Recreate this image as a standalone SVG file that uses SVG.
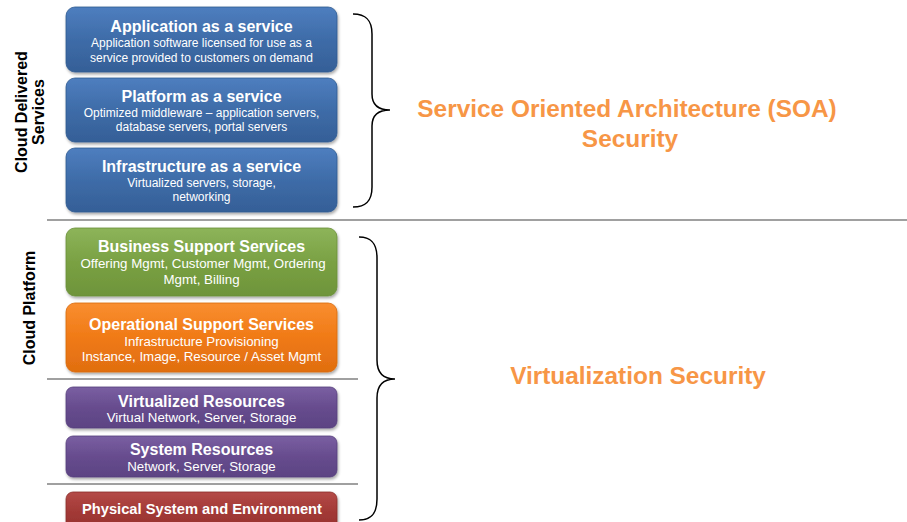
<svg xmlns="http://www.w3.org/2000/svg" width="907" height="522" viewBox="0 0 907 522">
  <defs>
    <linearGradient id="gBlue" x1="0" y1="0" x2="0" y2="1">
      <stop offset="0" stop-color="#4E7EBF"/>
      <stop offset="0.5" stop-color="#3E6CA8"/>
      <stop offset="1" stop-color="#355F97"/>
    </linearGradient>
    <linearGradient id="gGreen" x1="0" y1="0" x2="0" y2="1">
      <stop offset="0" stop-color="#8DB45A"/>
      <stop offset="0.5" stop-color="#7AA143"/>
      <stop offset="1" stop-color="#6E943A"/>
    </linearGradient>
    <linearGradient id="gOrange" x1="0" y1="0" x2="0" y2="1">
      <stop offset="0" stop-color="#F98E30"/>
      <stop offset="0.5" stop-color="#F07A16"/>
      <stop offset="1" stop-color="#E06E10"/>
    </linearGradient>
    <linearGradient id="gViolet" x1="0" y1="0" x2="0" y2="1">
      <stop offset="0" stop-color="#7A5FA2"/>
      <stop offset="0.5" stop-color="#674C8E"/>
      <stop offset="1" stop-color="#5C4383"/>
    </linearGradient>
    <linearGradient id="gRed" x1="0" y1="0" x2="0" y2="1">
      <stop offset="0" stop-color="#B44A47"/>
      <stop offset="0.5" stop-color="#A23936"/>
      <stop offset="1" stop-color="#94312E"/>
    </linearGradient>
    <filter id="shadow" x="-5%" y="-10%" width="112%" height="130%">
      <feGaussianBlur in="SourceAlpha" stdDeviation="1.5"/>
      <feOffset dx="1" dy="2" result="b"/>
      <feComponentTransfer><feFuncA type="linear" slope="0.35"/></feComponentTransfer>
      <feMerge><feMergeNode/><feMergeNode in="SourceGraphic"/></feMerge>
    </filter>
  </defs>
  <style>
    .box { filter: url(#shadow); }
    .title { font-family: "Liberation Sans", Arial, sans-serif; font-weight: bold; font-size: 16px; fill: #ffffff; text-anchor: middle; }
    .sub { font-family: "Liberation Sans", Arial, sans-serif; font-size: 12px; fill: #ffffff; text-anchor: middle; }
    .sub2 { font-family: "Liberation Sans", Arial, sans-serif; font-size: 13.3px; fill: #ffffff; text-anchor: middle; }
    .side { font-family: "Liberation Sans", Arial, sans-serif; font-weight: bold; font-size: 16px; fill: #000000; text-anchor: middle; }
    .big { font-family: "Liberation Sans", Arial, sans-serif; font-weight: bold; font-size: 24.4px; fill: #F79646; text-anchor: middle; }
    .sep { stroke: #A0A0A0; stroke-width: 2; fill: none; }
    .brace { stroke: #000000; stroke-width: 1.5; fill: none; }
  </style>

  <rect width="907" height="522" fill="#ffffff"/>

  <!-- section separators and braces -->
  <g id="connectors">
    <line class="sep" x1="47" y1="220" x2="907" y2="220"/>
    <line class="sep" x1="47" y1="379" x2="358" y2="379"/>
    <line class="sep" x1="47" y1="484" x2="358" y2="484"/>
    <path class="brace" d="M353,14 C366,14 372,20 372,34 L372,94 C372,104 378,110 390,110 C378,110 372,116 372,126 L372,187 C372,201 366,207 353,207"/>
    <path class="brace" d="M359,237 C372,237 377,244 377,258 L377,360 C377,372 383,379 395,379 C383,379 377,386 377,398 L377,499 C377,513 372,520 359,520"/>
  </g>

  <!-- side labels -->
  <g id="label-cloud-delivered">
    <text class="side" transform="translate(27,112) rotate(-90)">Cloud Delivered</text>
    <text class="side" transform="translate(44,112) rotate(-90)">Services</text>
  </g>
  <g id="label-cloud-platform">
    <text class="side" transform="translate(35,308) rotate(-90)">Cloud Platform</text>
  </g>

  <!-- cloud delivered services -->
  <g id="saas">
    <rect class="box" x="66" y="7" width="271" height="65" rx="9" fill="url(#gBlue)" stroke="#2F5A91" stroke-width="0.8"/>
    <text class="title" x="201.5" y="32">Application as a service</text>
    <text class="sub" x="201.5" y="47">Application software licensed for use as a</text>
    <text class="sub" x="201.5" y="62">service provided to customers on demand</text>
  </g>
  <g id="paas">
    <rect class="box" x="66" y="78" width="271" height="64" rx="9" fill="url(#gBlue)" stroke="#2F5A91" stroke-width="0.8"/>
    <text class="title" x="201.5" y="102">Platform as a service</text>
    <text class="sub" x="201.5" y="117">Optimized middleware – application servers,</text>
    <text class="sub" x="201.5" y="131">database servers, portal servers</text>
  </g>
  <g id="iaas">
    <rect class="box" x="66" y="148" width="271" height="64" rx="9" fill="url(#gBlue)" stroke="#2F5A91" stroke-width="0.8"/>
    <text class="title" x="201.5" y="172">Infrastructure as a service</text>
    <text class="sub" x="201.5" y="187">Virtualized servers, storage,</text>
    <text class="sub" x="201.5" y="201">networking</text>
  </g>

  <!-- cloud platform -->
  <g id="bss">
    <rect class="box" x="66" y="228" width="271" height="68" rx="9" fill="url(#gGreen)" stroke="#6A8F38" stroke-width="0.8"/>
    <text class="title" x="201.5" y="252">Business Support Services</text>
    <text class="sub2" x="203" y="268">Offering Mgmt,  Customer Mgmt, Ordering</text>
    <text class="sub2" x="201.5" y="284">Mgmt, Billing</text>
  </g>
  <g id="oss">
    <rect class="box" x="66" y="303" width="271" height="69" rx="9" fill="url(#gOrange)" stroke="#D86A0E" stroke-width="0.8"/>
    <text class="title" x="201.5" y="330">Operational Support Services</text>
    <text class="sub2" x="201.5" y="346">Infrastructure Provisioning</text>
    <text class="sub2" x="201.5" y="361">Instance, Image, Resource / Asset Mgmt</text>
  </g>
  <g id="virtualized-resources">
    <rect class="box" x="66" y="387" width="271" height="41" rx="7" fill="url(#gViolet)" stroke="#573F7C" stroke-width="0.8"/>
    <text class="title" x="201.5" y="407">Virtualized Resources</text>
    <text class="sub2" x="201.5" y="422">Virtual Network, Server, Storage</text>
  </g>
  <g id="system-resources">
    <rect class="box" x="66" y="436" width="271" height="41" rx="7" fill="url(#gViolet)" stroke="#573F7C" stroke-width="0.8"/>
    <text class="title" x="201.5" y="455">System Resources</text>
    <text class="sub2" x="201.5" y="471">Network, Server, Storage</text>
  </g>
  <g id="physical">
    <rect class="box" x="66" y="492" width="271" height="40" rx="7" fill="url(#gRed)" stroke="#8C2E2B" stroke-width="0.8"/>
    <text class="title" x="202" y="514" style="font-size:14.7px">Physical System and Environment</text>
  </g>

  <!-- security domains -->
  <g id="soa-security">
    <text class="big" x="627" y="117">Service Oriented Architecture (SOA)</text>
    <text class="big" x="630" y="147">Security</text>
  </g>
  <g id="virtualization-security">
    <text class="big" x="638" y="384">Virtualization Security</text>
  </g>
</svg>
